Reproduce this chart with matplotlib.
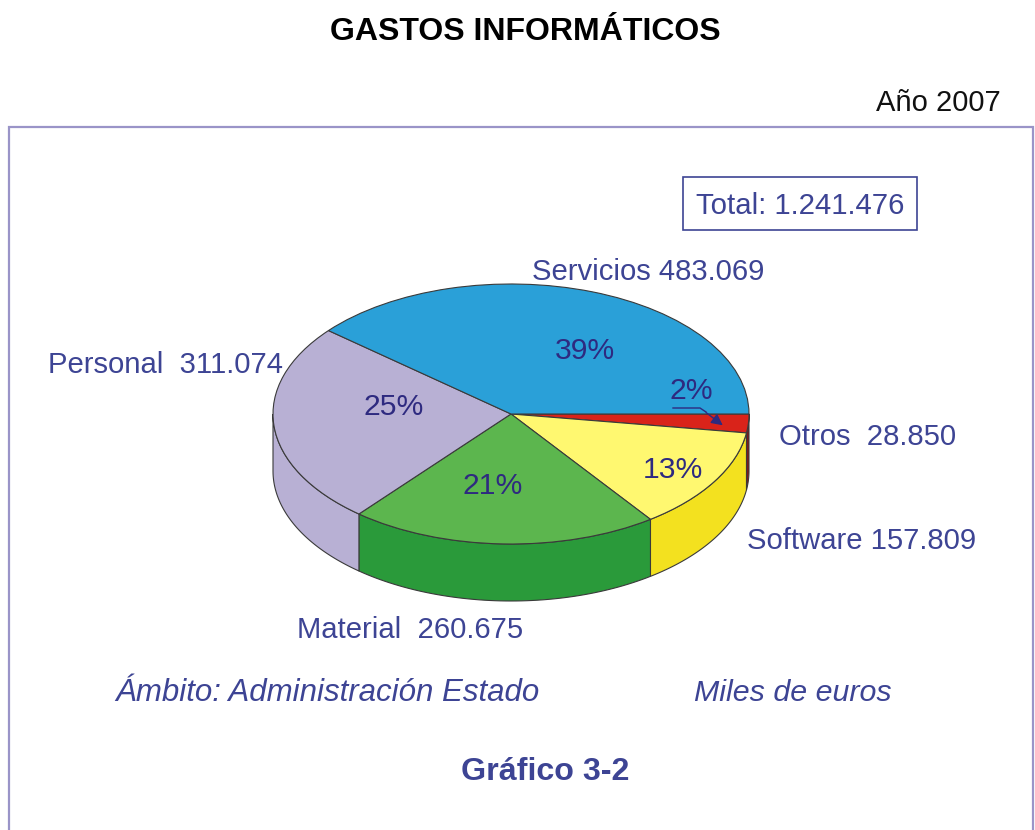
import numpy as np
import matplotlib
matplotlib.use('Agg')
import matplotlib.pyplot as plt
from matplotlib.patches import Rectangle

plt.rcParams['font.family'] = ['Liberation Sans', 'DejaVu Sans']

# datos, en sentido horario desde el este
names = ['Otros', 'Software', 'Material', 'Personal', 'Servicios']
values = [28850, 157809, 260675, 311074, 483069]
percents = ['2%', '13%', '21%', '25%', '39%']
top_colors = ['#d9231a', '#fff870', '#5cb64e', '#b8b0d4', '#2aa0d8']
side_colors = ['#7d1a1c', '#f3e11f', '#2a9a3a', '#b8b0d4', '#2aa0d8']

W, H = 1035, 830
fig = plt.figure(figsize=(W / 100, H / 100), dpi=100, facecolor='white')

# capa en pixeles para textos y marco
bg = fig.add_axes([0, 0, 1, 1])
bg.set_xlim(0, W)
bg.set_ylim(H, 0)
bg.axis('off')

# tarta: centro (511,414), rx 238, ry 130
cx, cy, rx, ry, depth = 511, 414, 238, 130, 57
ax = fig.add_axes([(cx - rx) / W, 1 - (cy + ry) / H, 2 * rx / W, 2 * ry / H])
ax.patch.set_alpha(0)
edge = '#3a3a3a'

# pared lateral
ends = np.cumsum(values) / sum(values) * 360
starts = np.r_[0, ends[:-1]]
d = depth / ry
for a0, a1, c in zip(starts, ends, side_colors):
    a1 = min(a1, 180)
    if a0 >= 180:
        continue
    t = np.radians(np.linspace(a0, a1, 60))
    xs = np.cos(t)
    ys = -np.sin(t)
    ax.fill(np.r_[xs, xs[::-1]], np.r_[ys, ys[::-1] - d], facecolor=c,
            edgecolor=edge, lw=0.8, clip_on=False, zorder=1)

wedges, _ = ax.pie(values, colors=top_colors, startangle=0, counterclock=False,
                   radius=1, wedgeprops={'edgecolor': edge, 'linewidth': 0.8, 'zorder': 2})
ax.set_aspect('auto')
ax.set_xlim(-1, 1)
ax.set_ylim(-1, 1)
for w in wedges:
    w.set_clip_on(False)
    w.set_zorder(2)

# marco
frame = '#9a94c8'
bg.plot([9, 9, 1033, 1033], [H, 127, 127, H], color=frame, lw=1.6, solid_joinstyle='miter')

# titulos
bg.text(525, 32, 'GASTOS INFORMÁTICOS', fontsize=23, fontweight='bold', color='black',
        ha='center', va='center')
bg.text(1001, 103, 'Año 2007', fontsize=21, color='#111111', ha='right', va='center')

blue = '#3d4494'
bg.add_patch(Rectangle((683, 177), 234, 53, fill=False, edgecolor=blue, lw=1.2))
bg.text(800, 206, 'Total: 1.241.476', fontsize=21.2, color=blue, ha='center', va='center')

# etiquetas de categorias
labels = {
    'Servicios': (648, 272, 'center', 'Servicios 483.069'),
    'Personal': (166, 365, 'center', 'Personal  311.074'),
    'Otros': (868, 437, 'center', 'Otros  28.850'),
    'Software': (862, 541, 'center', 'Software 157.809'),
    'Material': (410, 630, 'center', 'Material  260.675'),
}
for n in names:
    x, y, ha, s = labels[n]
    bg.text(x, y, s, fontsize=21.1, color=blue, ha=ha, va='center')

# porcentajes
pct_pos = [(691, 391), (673, 470), (493, 486), (394, 407), (585, 351)]
for s, (x, y) in zip(percents, pct_pos):
    bg.text(x, y, s, fontsize=21.7, color='#2e2a80', ha='center', va='center', zorder=5)

# flecha del 2%
bg.set_zorder(3)
bg.plot([673, 700, 706], [408, 408, 412], color='#2e2a80', lw=1)
bg.annotate('', xy=(725, 427), xytext=(704, 411),
            arrowprops=dict(arrowstyle='-|>', color='#2e2a80', lw=1, mutation_scale=17))

bg.text(327, 693, 'Ámbito: Administración Estado', fontsize=22.5, style='italic', color=blue,
        ha='center', va='center')
bg.text(793, 693, 'Miles de euros', fontsize=21.9, style='italic', color=blue,
        ha='center', va='center')
bg.text(545, 772, 'Gráfico 3-2', fontsize=23.2, fontweight='bold', color=blue,
        ha='center', va='center')

fig.savefig('out.png', dpi=100)
